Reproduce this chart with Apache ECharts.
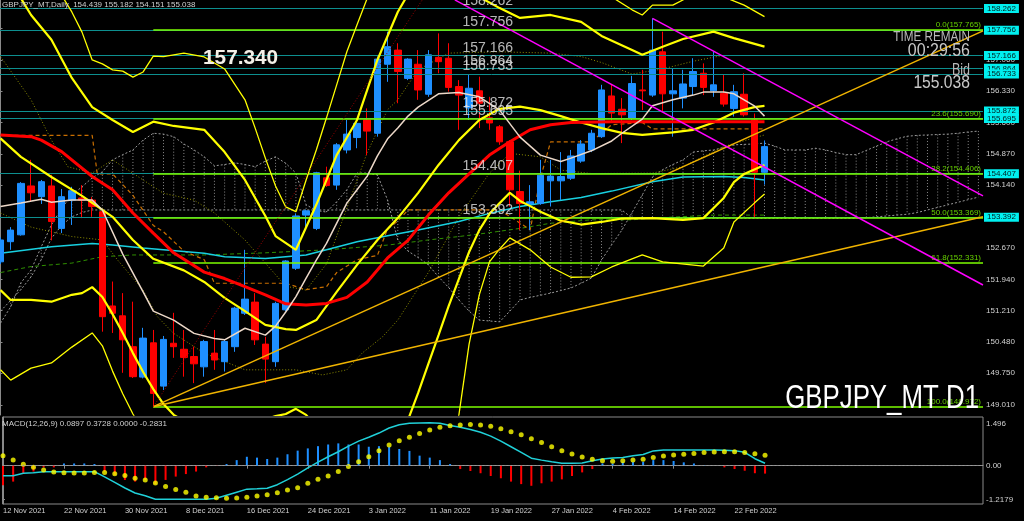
<!DOCTYPE html>
<html><head><meta charset="utf-8">
<script src="https://cdn.jsdelivr.net/npm/echarts@6/dist/echarts.min.js"></script>
<style>html,body{margin:0;padding:0;background:#000;overflow:hidden}#c{width:1024px;height:521px}</style>
</head><body><div id="c"></div>
<script>
// ---------- DATA ----------
const tickIdx = [0,6,12,18,24,30,36,42,48,54,60,66,72];
const tickLabels = ['12 Nov 2021','22 Nov 2021','30 Nov 2021','8 Dec 2021','16 Dec 2021','24 Dec 2021','3 Jan 2022','11 Jan 2022','19 Jan 2022','27 Jan 2022','4 Feb 2022','14 Feb 2022','22 Feb 2022'];
const priceTicks = [149.010,149.750,150.480,151.210,151.940,152.670,153.400,154.140,154.870,155.600,156.330,157.060,157.790];
const macdTicks = [1.496, 0, -1.2179];

const opens  = [152.35,152.82,152.98,154.12,153.87,154.12,153.13,153.79,153.84,153.79,153.52,151.32,151.09,150.37,149.66,150.46,149.45,150.45,150.31,150.14,149.90,150.22,150.02,150.37,151.15,151.41,150.43,150.02,151.23,152.20,153.44,153.13,154.31,154.14,154.96,155.25,155.66,155.35,156.96,157.29,156.63,156.96,156.26,157.12,157.10,156.44,155.94,156.34,155.71,155.50,155.15,153.99,153.70,153.71,154.24,154.24,154.30,154.70,154.96,155.27,156.22,155.91,155.70,156.36,156.24,157.25,156.27,156.17,156.44,156.75,156.34,156.28,155.93,156.26,155.66,154.439];
const highs  = [152.92,153.16,154.21,154.73,154.26,154.38,154.05,154.10,154.14,153.86,153.58,151.89,151.62,151.42,150.81,150.76,150.62,151.16,150.76,150.37,150.53,150.76,150.53,151.30,152.63,151.62,150.60,151.42,152.39,153.48,153.57,154.45,154.57,155.12,155.66,155.70,155.93,157.14,157.72,157.45,157.10,157.29,157.29,157.68,157.45,156.59,156.71,156.67,156.20,155.54,155.19,154.48,154.14,154.73,154.73,154.91,154.96,155.19,155.43,156.48,156.48,156.17,156.69,156.83,158.03,157.72,156.87,156.83,157.10,156.98,157.25,156.71,156.48,156.75,155.81,155.182];
const lows   = [152.30,152.63,152.96,153.75,153.70,152.85,153.02,153.21,153.37,153.40,150.72,150.69,149.76,149.64,149.63,148.97,149.36,150.11,149.67,149.52,149.67,149.83,149.79,150.25,151.11,150.41,149.52,149.90,151.19,152.16,153.09,153.09,154.10,154.03,154.88,155.00,154.84,155.27,156.55,156.05,156.59,156.13,156.20,156.75,156.32,155.43,155.66,155.47,155.43,155.08,153.64,153.09,153.09,153.68,153.64,153.79,154.26,154.66,154.91,155.24,155.59,155.12,155.66,155.89,156.20,155.85,155.27,155.93,156.24,156.24,156.20,155.97,155.74,155.74,153.39,154.151];
const closes = [152.86,153.09,154.18,153.96,154.22,153.29,153.87,154.01,153.79,153.64,151.07,151.15,150.53,149.67,150.57,149.28,150.54,150.37,150.12,149.97,150.49,150.06,150.49,151.27,151.48,150.53,150.08,151.38,152.37,153.42,153.54,154.43,154.13,155.08,155.33,155.58,155.40,157.08,157.37,156.79,157.08,156.36,157.18,157.02,156.42,156.24,156.40,156.05,155.59,155.15,154.03,153.71,153.75,154.37,154.35,154.34,154.82,155.10,155.35,156.36,155.82,155.78,156.51,156.34,157.29,156.27,156.34,156.50,156.79,156.42,156.48,156.03,156.32,155.78,154.44,155.038];

// moving averages / bands, read at sample bars: [bar index, price]
const redMA = [[0,155.31],[3,155.27],[4,155.19],[6,154.92],[9,154.34],[11,154.03],[13,153.49],[15,153.02],[17,152.56],[20,152.11],[22,151.96],[24,151.77],[26,151.58],[28,151.37],[30,151.34],[32,151.38],[34,151.52],[36,151.88],[38,152.44],[40,152.85],[42,153.44],[44,153.96],[46,154.40],[48,154.84],[50,155.15],[52,155.43],[54,155.55],[56,155.60],[60,155.62],[65,155.62],[70,155.62],[75,155.62]];
const whiteMA = [[0,153.64],[2,153.72],[4,153.81],[5,153.74],[7,153.79],[9,153.79],[10,153.56],[12,152.53],[14,151.65],[15,151.20],[17,150.99],[19,150.68],[21,150.56],[22,150.53],[24,150.80],[26,150.64],[27,150.85],[28,151.18],[29,151.54],[30,151.97],[31,152.39],[32,152.78],[34,153.72],[35,154.03],[36,154.35],[37,154.82],[38,155.22],[39,155.47],[40,155.75],[41,155.96],[43,156.27],[45,156.30],[47,156.20],[49,155.89],[51,155.26],[53,154.84],[55,154.69],[56,154.77],[58,154.94],[60,155.17],[61,155.35],[63,155.68],[64,155.99],[66,156.13],[68,156.24],[69,156.31],[71,156.31],[72,156.27],[73,156.13],[74,155.99],[75,155.75]];
const cyanMA = [[0,152.55],[5,152.70],[9,152.78],[11,152.74],[14,152.67],[16,152.63],[20,152.55],[22,152.47],[26,152.43],[28,152.47],[30,152.51],[32,152.63],[35,152.82],[38,152.96],[41,153.09],[45,153.29],[48,153.48],[51,153.64],[54,153.75],[57,153.85],[60,154.00],[64,154.22],[67,154.33],[71,154.34],[73,154.32],[75,154.26]];
const greenMA = [[0,152.10],[3,152.24],[7,152.32],[10,152.47],[13,152.51],[20,152.51],[26,152.56],[32,152.63],[38,152.74],[42,152.86],[45,152.94],[48,153.03],[51,153.13],[54,153.25],[58,153.33],[62,153.33],[64,153.37],[70,153.44],[75,153.44]];
const bandMid = [[0,155.23],[2,154.80],[5,154.33],[8,153.89],[11,153.40],[13,152.86],[15,152.42],[18,152.15],[20,151.88],[22,151.51],[24,151.20],[26,150.88],[28,150.78],[29,150.76],[31,150.99],[33,151.65],[35,152.28],[37,152.86],[39,153.37],[41,153.96],[43,154.61],[45,155.19],[47,155.66],[49,155.92],[51,155.97],[53,155.89],[55,155.75],[57,155.60],[59,155.47],[61,155.36],[63,155.31],[66,155.37],[68,155.43],[70,155.60],[72,155.83],[74,155.96],[75,155.99]];
const bandUp2 = [[0,159.4],[1,159.0],[2,158.50],[3,158.11],[5,157.53],[7,156.64],[9,155.96],[11,155.66],[13,155.38],[15,155.62],[17,155.52],[20,155.43],[22,154.91],[24,154.26],[26,153.42],[27,152.95],[29,152.63],[31,153.68],[33,154.84],[35,155.66],[37,157.06],[39,158.18],[41,159.0],[43,159.2],[45,159.1],[47,158.53],[49,158.27],[51,158.04],[54,158.11],[57,157.95],[59,157.62],[62,157.29],[63,157.18],[65,157.37],[67,157.55],[70,157.72],[72,157.57],[75,157.37]];
const bandLo2 = [[0,151.69],[1,151.46],[3,151.46],[5,151.42],[7,151.58],[8,151.62],[9,151.76],[10,151.53],[11,151.13],[12,150.69],[13,150.22],[14,149.78],[15,149.38],[16,149.03],[17,148.78],[19,148.5],[22,148.3],[25,148.6],[27,148.75],[28,148.80],[29,148.92],[30,148.78],[32,148.2],[35,147.5],[37,147.8],[39,148.4],[40,148.66],[41,149.29],[42,149.97],[43,150.64],[44,151.32],[45,151.95],[46,152.58],[47,153.09],[48,153.47],[49,153.72],[50,153.96],[51,153.77],[52,153.65],[53,153.52],[55,153.31],[57,153.22],[59,153.28],[61,153.36],[64,153.37],[67,153.33],[69,153.37],[71,153.84],[72,154.21],[73,154.40],[75,154.61]];
const bandUp3 = [[0,160.8],[3,160.0],[6,158.57],[7,158.18],[8,157.71],[9,157.06],[10,156.97],[11,156.83],[12,156.80],[13,156.66],[14,156.78],[15,157.15],[16,157.14],[18,157.22],[20,157.13],[22,156.85],[24,156.13],[25,155.47],[26,154.77],[27,154.12],[28,153.63],[29,153.52],[30,154.26],[31,154.96],[32,155.71],[33,156.48],[34,157.25],[35,157.88],[36,158.50],[38,160.0],[42,161.0],[48,161.0],[54,160.0],[58,159.2],[60,158.53],[62,158.23],[63,158.11],[64,158.34],[66,158.34],[67,158.46],[69,158.9],[71,158.53],[73,158.34],[75,158.07]];
const bandLo3 = [[0,149.83],[1,149.59],[3,149.87],[5,149.99],[7,150.36],[9,150.69],[10,150.39],[11,149.80],[12,149.27],[13,148.80],[15,148.0],[20,147.0],[26,146.8],[29,147.0],[33,146.0],[38,146.0],[42,147.0],[44,148.0],[45,148.78],[46,150.43],[47,151.58],[48,152.35],[49,152.65],[50,152.91],[52,152.63],[54,152.23],[56,151.99],[58,152.00],[60,152.23],[63,152.51],[65,152.35],[69,152.25],[71,152.67],[72,153.28],[74,153.72],[75,153.93]];
const oliveUp = [[0,157.14],[3,156.13],[5,155.19],[6.6,154.57],[9,154.42],[11,154.73],[14,154.26],[16,153.95],[19,153.79],[21,153.49],[24,152.86],[26,152.32],[28,151.78],[30,151.69],[32,152.3],[34,153.6],[36,154.9],[38,155.9],[39,156.13],[41,156.83],[44,157.22],[49,157.25],[54,157.22],[57,157.14],[59,157.0],[62,156.73],[65,156.85],[68,157.03],[71,157.17]];
const oliveLo = [[0,153.49],[3,153.16],[7,152.94],[10,152.86],[11.5,152.39],[14,151.69],[15.4,151.07],[17,150.68],[20,150.22],[24,149.83],[29,149.83],[31.6,149.71],[34,149.83],[35.5,150.22],[37.5,150.60],[39,150.99],[42,152.1],[45,153.40],[48,154.42],[50,154.88],[53,154.80],[55,154.49],[58,154.41],[64,154.42],[67,154.57],[71,155.04],[75,155.31]];
const kijun = [[0,155.30],[9,155.30],[9.5,154.40],[11,154.40],[13,153.90],[14,153.55],[15,153.20],[16,153.05],[18,152.60],[20,152.40],[21,151.85],[28,151.85],[30,151.70],[32,151.77],[33,152.10],[35,152.40],[37,152.50],[38,153.12],[39,153.30],[40,153.56],[49,153.56],[52,153.10],[53,154.30],[54,155.15],[58,155.15],[60,155.55],[63,155.60],[64,155.45],[75,155.45]];
// Ichimoku cloud spans, one value per bar (incl. bars shifted forward)
const spanA = [150.92,151.30,151.86,152.16,152.70,153.21,153.60,153.91,154.10,154.31,154.45,154.73,154.85,154.96,155.19,155.35,155.33,155.27,155.10,154.96,154.80,154.59,154.62,154.66,154.62,154.57,154.70,154.80,154.65,154.42,153.68,153.55,153.51,153.75,154.03,154.42,154.42,154.38,153.79,152.86,152.60,152.45,152.28,152.00,151.75,151.46,151.20,150.99,150.97,150.95,151.20,151.46,151.52,151.57,151.62,151.68,151.74,151.85,151.97,152.39,152.75,153.09,153.50,153.91,154.33,154.50,154.62,154.73,154.91,154.94,154.96,155.02,155.08,155.09,155.10,155.12,155.05,154.96,154.96,154.96,155.00,154.96,154.90,154.85,154.85,154.95,155.05,155.15,155.22,155.28,155.30,155.31,155.32,155.33,155.35,155.38,155.40];
const spanB = [151.20,151.45,151.70,152.00,152.40,152.90,153.20,153.40,153.50,153.56,153.56,153.56,153.56,153.56,153.56,153.56,153.56,153.56,153.56,153.56,153.56,153.56,153.56,153.56,153.56,153.56,153.56,153.56,153.56,153.56,153.56,153.56,153.56,153.56,153.56,153.56,153.56,153.56,153.56,153.56,153.56,153.56,153.56,153.56,153.56,153.56,153.56,153.56,153.56,153.56,153.56,153.56,153.56,153.56,153.56,153.56,153.56,153.56,153.56,153.56,153.56,153.56,153.37,153.37,153.37,153.37,153.37,153.37,153.37,153.37,153.37,153.37,153.37,153.37,153.37,153.37,153.37,153.37,153.37,153.37,153.37,153.37,153.37,153.37,153.37,153.38,153.40,153.42,153.44,153.46,153.50,153.56,153.62,153.68,153.74,153.80,153.86];
// drawn trend lines: [bar index, price]
const goldLine1 = [[15,148.97],[96.45,157.74]];
const goldLine2 = [[15,148.97],[96.45,153.40]];
const magentaLine1 = [[64,158.03],[96.45,153.89]];
const magentaLine2 = [[44.6,158.46],[96.45,151.81]];
const redDotLine = [[15,148.97],[41.4,158.46]];
// horizontal price levels
const levels = [158.262,157.756,157.166,156.864,156.733,155.872,155.695,154.407,153.392];
const bidPrice = 155.038;
const fibLevels = [157.765,155.690,154.406,153.369,152.331,148.972];
const fibNames = ['0.0','23.6','38.2','50.0','61.8','100.0'];
const fibStart = 15;
// MACD
const macdLine = [-0.36,-0.36,-0.27,-0.25,-0.215,-0.215,-0.215,-0.215,-0.215,-0.215,-0.40,-0.60,-0.80,-0.98,-1.08,-1.20,-1.20,-1.20,-1.20,-1.20,-1.20,-1.17,-1.06,-0.95,-0.84,-0.83,-0.81,-0.68,-0.50,-0.30,-0.08,0.13,0.32,0.50,0.70,0.88,1.02,1.17,1.35,1.47,1.52,1.53,1.54,1.52,1.44,1.38,1.30,1.20,1.06,0.88,0.68,0.48,0.27,0.20,0.14,0.09,0.09,0.10,0.18,0.24,0.28,0.29,0.36,0.40,0.53,0.56,0.56,0.56,0.56,0.56,0.56,0.55,0.54,0.48,0.25,0.0897];
const macdSignal = [0.36,0.20,0.05,-0.06,-0.15,-0.23,-0.25,-0.26,-0.26,-0.24,-0.24,-0.29,-0.35,-0.45,-0.51,-0.62,-0.75,-0.85,-0.95,-1.09,-1.13,-1.15,-1.17,-1.16,-1.13,-1.09,-1.04,-0.97,-0.87,-0.79,-0.63,-0.49,-0.37,-0.21,-0.03,0.14,0.32,0.54,0.74,0.89,1.02,1.15,1.28,1.38,1.43,1.46,1.48,1.46,1.41,1.32,1.22,1.11,0.97,0.83,0.68,0.54,0.42,0.31,0.23,0.18,0.16,0.18,0.20,0.23,0.29,0.35,0.38,0.41,0.44,0.47,0.49,0.50,0.50,0.47,0.43,0.3728];
const macdHist = [-0.70,-0.57,-0.27,-0.21,-0.06,-0.06,0.08,0.08,0.08,0.06,-0.21,-0.33,-0.51,-0.57,-0.51,-0.66,-0.51,-0.39,-0.30,-0.21,-0.06,-0.01,0.06,0.20,0.32,0.29,0.24,0.29,0.41,0.54,0.62,0.70,0.76,0.80,0.76,0.76,0.68,0.70,0.68,0.60,0.53,0.36,0.29,0.20,0.06,-0.12,-0.19,-0.27,-0.37,-0.45,-0.57,-0.66,-0.72,-0.63,-0.57,-0.49,-0.37,-0.24,-0.12,0.08,0.08,0.14,0.14,0.14,0.20,0.20,0.17,0.12,0.08,0.02,0.00,-0.06,-0.12,-0.18,-0.27,-0.2831];

// ---------- CHART ----------
const FONT = 'Liberation Sans, Arial, sans-serif';
const XMIN = -0.05, XMAX = 96.45;
const LEVEL_TEXT_X = 45.4;
const chart = echarts.init(document.getElementById('c'), null, {renderer:'canvas'});

function ln(data, color, width, type, z, extra) {
  return Object.assign({type:'line', xAxisIndex:0, yAxisIndex:0, data: data, showSymbol:false, symbol:'none',
    silent:true, animation:false, z: z, lineStyle:{color: color, width: width, type: type || 'solid'}}, extra || {});
}

const levelMarks = levels.map(v => ({
  yAxis: v, lineStyle:{color:'#0d8f8f', width:1, type:'solid'},
  label:{show:true, position:'end', distance:1, formatter: v.toFixed(3), backgroundColor:'#00f0f0', color:'#002020',
    fontSize:8, fontFamily:FONT, padding:[1,3,0,3]}
}));
levelMarks.push({ yAxis: bidPrice, lineStyle:{opacity:0},
  label:{show:true, position:'end', distance:1, formatter: bidPrice.toFixed(3), backgroundColor:'#ffffff', color:'#000',
    fontSize:8, fontFamily:FONT, padding:[1,3,0,3]} });
const fibMarks = fibLevels.map((v, k) => [
  {coord:[fibStart, v], lineStyle:{color:'#7cfc00', width:1.5, type:'solid'},
   label:{show:true, position:'insideEndTop', distance:[2,1], formatter: fibNames[k] + '(' + v.toFixed(3) + ')', color:'#66d000', fontSize:8, fontFamily:FONT}},
  {coord:[XMAX, v]}
]);

const option = {
  backgroundColor:'#000',
  animation:false,
  grid:[
    {left:0, right:41, top:0, height:415, containLabel:false},
    {left:0, right:41, top:417, height:87, show:true, borderColor:'#8a8a8a', borderWidth:1, backgroundColor:'transparent'}
  ],
  xAxis:[
    {type:'value', gridIndex:0, min:XMIN, max:XMAX, show:false},
    {type:'value', gridIndex:1, min:XMIN, max:XMAX, splitLine:{show:false},
      axisLine:{show:true, lineStyle:{color:'#8a8a8a'}},
      axisTick:{show:true, customValues:tickIdx, length:3, lineStyle:{color:'#8a8a8a'}},
      axisLabel:{customValues:tickIdx, formatter:(v)=>tickLabels[tickIdx.indexOf(Math.round(v))] || '', color:'#d0d0d0', fontSize:7.5, fontFamily:FONT, align:'left', margin:3}}
  ],
  yAxis:[
    {type:'value', gridIndex:0, position:'right', min:148.776, max:158.459, splitLine:{show:false},
      axisLine:{show:true, lineStyle:{color:'#8a8a8a'}},
      axisTick:{show:true, customValues:priceTicks, length:2, lineStyle:{color:'#8a8a8a'}},
      axisLabel:{customValues:priceTicks, formatter:(v)=>v.toFixed(3), color:'#d0d0d0', fontSize:8, fontFamily:FONT, margin:3}},
    {type:'value', gridIndex:1, position:'right', min:-1.3728, max:1.7455, splitLine:{show:false},
      axisLine:{show:true, lineStyle:{color:'#8a8a8a'}},
      axisTick:{show:true, customValues:macdTicks, length:2, lineStyle:{color:'#8a8a8a'}},
      axisLabel:{customValues:macdTicks, formatter:(v)=> v===0 ? '0.00' : String(v), color:'#d0d0d0', fontSize:8, fontFamily:FONT, margin:3}}
  ],
  series:[
    // cloud hatching
    {type:'custom', xAxisIndex:0, yAxisIndex:0, silent:true, animation:false, z:1, clip:true,
      data: spanA.map((a,i)=>[i,a,spanB[i]]), encode:{x:0, y:[1,2]},
      renderItem:(params, api)=>{
        const p1 = api.coord([api.value(0), api.value(1)]);
        const p2 = api.coord([api.value(0), api.value(2)]);
        return {type:'line', shape:{x1:p1[0], y1:p1[1], x2:p2[0], y2:p2[1]}, style:{stroke:'#8a8a8a', lineWidth:1, lineDash:[1,2]}};
      }},
    ln(spanA.map((v,i)=>[i,v]), '#9a9a9a', 1, [2,2], 1),
    ln(spanB.map((v,i)=>[i,v]), '#9a9a9a', 1, [2,2], 1, {
      markLine:{silent:true, symbol:['none','none'], animation:false, precision:3, data: levelMarks.concat(fibMarks)}}),
    // indicator lines
    ln(greenMA, '#2f8f00', 1, [4,3], 3),
    ln(oliveUp, '#8c8c00', 1, [1,2], 3),
    ln(oliveLo, '#8c8c00', 1, [1,2], 3),
    ln(kijun, '#c86e00', 1.2, [4,3], 3),
    ln(cyanMA, '#18d0e0', 1.5, 'solid', 3),
    // candles
    {type:'candlestick', xAxisIndex:0, yAxisIndex:0, silent:true, animation:false, z:4, barWidth:7,
      data: opens.map((o,i)=>[i,o,closes[i],lows[i],highs[i]]), encode:{x:0, y:[1,2,3,4]},
      itemStyle:{color:'#1e8fff', color0:'#ff0000', borderColor:'#1e8fff', borderColor0:'#ff0000', borderWidth:1}},
    ln(bandUp3, '#ffff00', 1.3, 'solid', 5),
    ln(bandLo3, '#ffff00', 1.3, 'solid', 5),
    ln(bandUp2, '#ffff00', 2.2, 'solid', 5),
    ln(bandLo2, '#ffff00', 2.2, 'solid', 5),
    ln(bandMid, '#ffff00', 2.2, 'solid', 5),
    ln(redMA, '#ff0000', 3, 'solid', 6),
    ln(whiteMA, '#ecd8c8', 1.5, 'solid', 6),
    ln(goldLine1, '#f0b400', 1.5, 'solid', 6),
    ln(goldLine2, '#f0b400', 1.5, 'solid', 6),
    ln(magentaLine1, '#ff00ff', 1.5, 'solid', 6),
    ln(magentaLine2, '#ff00ff', 1.5, 'solid', 6),
    ln(redDotLine, '#a00000', 1, [1,2], 6),
    // level texts
    {type:'scatter', xAxisIndex:0, yAxisIndex:0, silent:true, animation:false, z:7, symbolSize:1,
      itemStyle:{color:'rgba(0,0,0,0)'},
      data: levels.map(v=>[LEVEL_TEXT_X, v]),
      label:{show:true, position:[0,-14], formatter:(p)=>p.value[1].toFixed(3), color:'#e4e4e4', fontSize:14, fontFamily:FONT}},
    // MACD
    {type:'custom', xAxisIndex:1, yAxisIndex:1, silent:true, animation:false, z:2,
      data: macdHist.map((v,i)=>[i,v]), encode:{x:0, y:1},
      renderItem:(params, api)=>{
        const v = api.value(1);
        const p0 = api.coord([api.value(0), 0]);
        const p1 = api.coord([api.value(0), v]);
        return {type:'rect', shape:{x:p0[0]-1, y:Math.min(p0[1],p1[1]), width:2, height:Math.abs(p1[1]-p0[1])},
          style:{fill: v >= 0 ? '#1e8fff' : '#ff0000'}};
      }},
    {type:'line', xAxisIndex:1, yAxisIndex:1, data: macdLine.map((v,i)=>[i,v]), showSymbol:false, symbol:'none', silent:true, animation:false, z:3,
      lineStyle:{color:'#20d0d8', width:1.5},
      markLine:{silent:true, symbol:['none','none'], animation:false, label:{show:false},
        data:[{yAxis:0, lineStyle:{color:'#9a9a9a', width:1, type:[2,2]}}]}},
    {type:'scatter', xAxisIndex:1, yAxisIndex:1, data: macdSignal.map((v,i)=>[i,v]), symbolSize:5, silent:true, animation:false, z:4,
      itemStyle:{color:'#ffff00'}}
  ],
  graphic:[
    {type:'text', left:2, top:1, z:100, style:{text:'GBPJPY_MT,Daily  154.439 155.182 154.151 155.038', fill:'#d0d0d0', font:'8px ' + FONT}},
    {type:'text', left:2, top:420, z:100, style:{text:'MACD(12,26,9) 0.0897 0.3728 0.0000 -0.2831', fill:'#d0d0d0', font:'8px ' + FONT}},
    {type:'text', x:203, y:48, z:100, scaleX:1.04, style:{text:'157.340', fill:'#f4f0e8', font:'bold 20px ' + FONT}},
    {type:'text', x:970, y:29, z:100, scaleX:0.78, style:{text:'TIME REMAIN', fill:'#b8b8b8', font:'15px ' + FONT, align:'right'}},
    {type:'text', x:970, y:41, z:100, scaleX:0.84, style:{text:'00:29:56', fill:'#c8c8c8', font:'19px ' + FONT, align:'right'}},
    {type:'text', x:970, y:63, z:100, scaleX:0.78, style:{text:'Bid', fill:'#b8b8b8', font:'16px ' + FONT, align:'right'}},
    {type:'text', x:970, y:74, z:100, scaleX:0.87, style:{text:'155.038', fill:'#c8c8c8', font:'18px ' + FONT, align:'right'}},
    {type:'text', x:979, y:382, z:100, scaleX:0.76, style:{text:'GBPJPY_MT D1', fill:'#ffffff', font:'34px ' + FONT, align:'right'}}
  ]
};
chart.setOption(option);
</script>
</body></html>
